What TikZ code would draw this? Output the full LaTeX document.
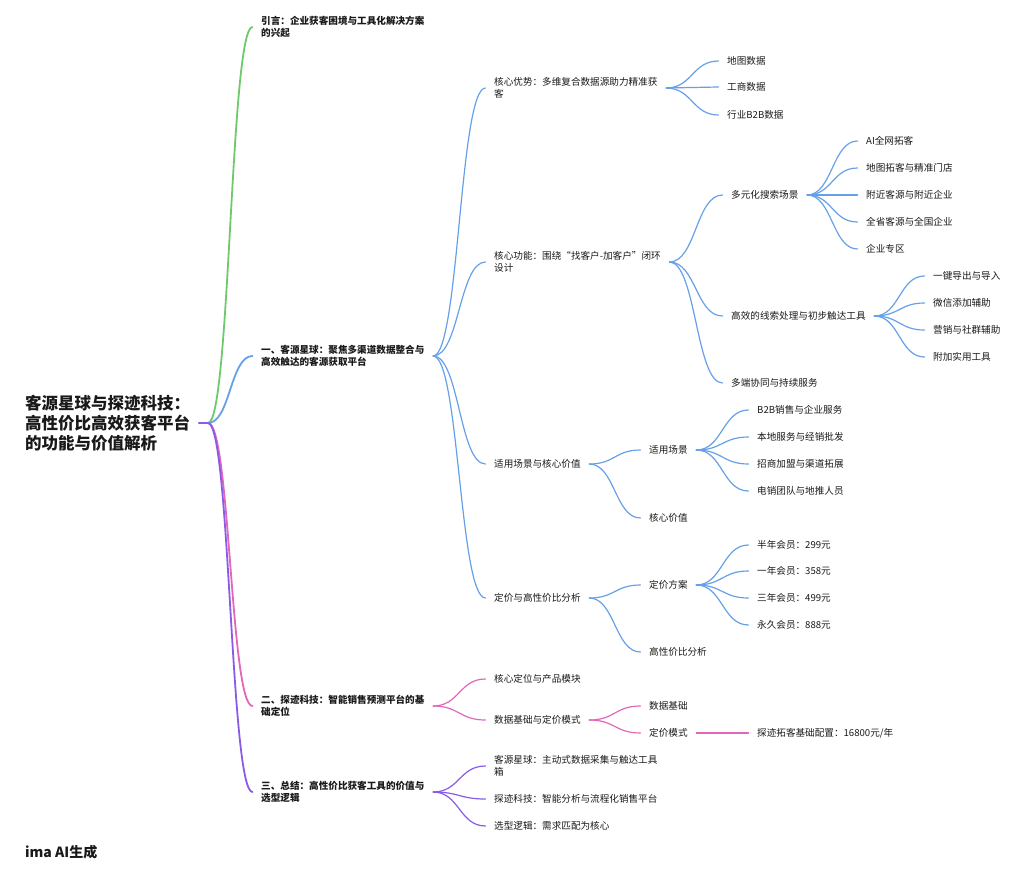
\documentclass[tikz,border=0pt]{standalone}
\usepackage{fontspec}
\setmainfont{Noto Sans CJK SC}
\usetikzlibrary{calc}

\definecolor{lkgreen}{RGB}{112,200,108}
\definecolor{lkblue}{RGB}{102,160,232}
\definecolor{lkpink}{RGB}{226,102,186}
\definecolor{lkpurple}{RGB}{136,92,230}
\definecolor{txt}{RGB}{25,25,25}

% markmap-like link: horizontal tangents at both ends
\newcommand{\mmlink}[3]{%
  \draw[#1] let \p1=(#2), \p2=(#3) in
    (\p1) .. controls ({(\x1+\x2)/2},\y1) and ({(\x1+\x2)/2},\y2) .. (\p2);}

\begin{document}
\begin{tikzpicture}[
    x=1pt, y=-1pt,
    rootbox/.style={anchor=west, xshift=-8.5pt, inner xsep=8.5pt, inner ysep=1pt, align=left, text=txt, font=\fontsize{16.5}{20}\selectfont\bfseries},
    headbox/.style={anchor=west, xshift=-8.5pt, inner xsep=8.5pt, inner ysep=1pt, align=left, text=txt, font=\fontsize{9.6}{12}\selectfont\bfseries},
    itembox/.style={anchor=west, xshift=-8.5pt, inner xsep=8.5pt, inner ysep=1pt, align=left, text=txt, font=\fontsize{9.6}{12}\selectfont},
    lkmain/.style={draw=#1, line width=1.8pt, line cap=round},
    lk/.style={draw=#1, line width=1.2pt, line cap=round}
  ]
  \useasboundingbox (0,0) rectangle (1024,878);

  % root
  \node[rootbox] (root) at (25,423) {客源星球与探迹科技：\\高性价比高效获客平台\\的功能与价值解析};
  \coordinate (rj) at (208,423);

  % level 1
  \node[headbox] (intro) at (261,27) {引言：企业获客困境与工具化解决方案\\的兴起};
  \node[headbox] (kyxq) at (261,356) {一、客源星球：聚焦多渠道数据整合与\\高效触达的客源获取平台};
  \node[headbox] (tjkj) at (261,706) {二、探迹科技：智能销售预测平台的基\\础定位};
  \node[headbox] (summ) at (261,792) {三、总结：高性价比获客工具的价值与\\选型逻辑};

  % 客源星球
  \node[itembox] (adv) at (494,88) {核心优势：多维复合数据源助力精准获\\客};
  \node[itembox] (func) at (494,262) {核心功能：围绕“找客户-加客户”闭环\\设计};
  \node[itembox] (usage) at (494,464) {适用场景与核心价值};
  \node[itembox] (price) at (494,598) {定价与高性价比分析};

  \node[itembox] (map) at (727,61) {地图数据};
  \node[itembox] (biz) at (727,87) {工商数据};
  \node[itembox] (ind) at (727,115) {行业B2B数据};

  \node[itembox] (search) at (731,195) {多元化搜索场景};
  \node[itembox] (lead) at (731,316) {高效的线索处理与初步触达工具};
  \node[itembox] (multi) at (731,383) {多端协同与持续服务};

  \node[itembox] (sa) at (866,141) {AI全网拓客};
  \node[itembox] (sb) at (866,168) {地图拓客与精准门店};
  \node[itembox] (sc) at (866,195) {附近客源与附近企业};
  \node[itembox] (sd) at (866,222) {全省客源与全国企业};
  \node[itembox] (se) at (866,249) {企业专区};

  \node[itembox] (la) at (933,276) {一键导出与导入};
  \node[itembox] (lb) at (933,303) {微信添加辅助};
  \node[itembox] (lc) at (933,330) {营销与社群辅助};
  \node[itembox] (ld) at (933,357) {附加实用工具};

  \node[itembox] (scene) at (649,450) {适用场景};
  \node[itembox] (worth) at (649,518) {核心价值};
  \node[itembox] (ua) at (757,410) {B2B销售与企业服务};
  \node[itembox] (ub) at (757,437) {本地服务与经销批发};
  \node[itembox] (uc) at (757,464) {招商加盟与渠道拓展};
  \node[itembox] (ud) at (757,491) {电销团队与地推人员};

  \node[itembox] (plan) at (649,585) {定价方案};
  \node[itembox] (perf) at (649,652) {高性价比分析};
  \node[itembox] (pa) at (757,545) {半年会员：299元};
  \node[itembox] (pb) at (757,571) {一年会员：358元};
  \node[itembox] (pc) at (757,598) {三年会员：499元};
  \node[itembox] (pd) at (757,625) {永久会员：888元};

  % 探迹科技
  \node[itembox] (core) at (494,679) {核心定位与产品模块};
  \node[itembox] (dpm) at (494,720) {数据基础与定价模式};
  \node[itembox] (base) at (649,706) {数据基础};
  \node[itembox] (mode) at (649,733) {定价模式};
  \node[itembox] (cfg) at (757,733) {探迹拓客基础配置：16800元/年};

  % 总结
  \node[itembox] (ta) at (494,766) {客源星球：主动式数据采集与触达工具\\箱};
  \node[itembox] (tb) at (494,799) {探迹科技：智能分析与流程化销售平台};
  \node[itembox] (tc) at (494,826) {选型逻辑：需求匹配为核心};

  % links
  \mmlink{lkmain=lkgreen}{rj}{intro.west}
  \mmlink{lkmain=lkblue}{rj}{kyxq.west}
  \mmlink{lkmain=lkpink}{rj}{tjkj.west}
  \mmlink{lkmain=lkpurple}{rj}{summ.west}
  \draw[lkmain=lkpurple] (root.east) -- (rj);

  \foreach \c in {adv,func,usage,price} {\mmlink{lk=lkblue}{kyxq.east}{\c.west}}
  \foreach \c in {map,biz,ind} {\mmlink{lk=lkblue}{adv.east}{\c.west}}
  \foreach \c in {search,lead,multi} {\mmlink{lk=lkblue}{func.east}{\c.west}}
  \foreach \c in {sa,sb,sc,sd,se} {\mmlink{lk=lkblue}{search.east}{\c.west}}
  \foreach \c in {la,lb,lc,ld} {\mmlink{lk=lkblue}{lead.east}{\c.west}}
  \foreach \c in {scene,worth} {\mmlink{lk=lkblue}{usage.east}{\c.west}}
  \foreach \c in {ua,ub,uc,ud} {\mmlink{lk=lkblue}{scene.east}{\c.west}}
  \foreach \c in {plan,perf} {\mmlink{lk=lkblue}{price.east}{\c.west}}
  \foreach \c in {pa,pb,pc,pd} {\mmlink{lk=lkblue}{plan.east}{\c.west}}

  \foreach \c in {core,dpm} {\mmlink{lk=lkpink}{tjkj.east}{\c.west}}
  \foreach \c in {base,mode} {\mmlink{lk=lkpink}{dpm.east}{\c.west}}
  \mmlink{lk=lkpink}{mode.east}{cfg.west}

  \foreach \c in {ta,tb,tc} {\mmlink{lk=lkpurple}{summ.east}{\c.west}}

  % watermark
  \node[anchor=west, inner sep=0pt, text=txt, font=\fontsize{14}{16}\selectfont\bfseries] (wm) at (25,852) {ima AI生成};
\end{tikzpicture}
\end{document}
